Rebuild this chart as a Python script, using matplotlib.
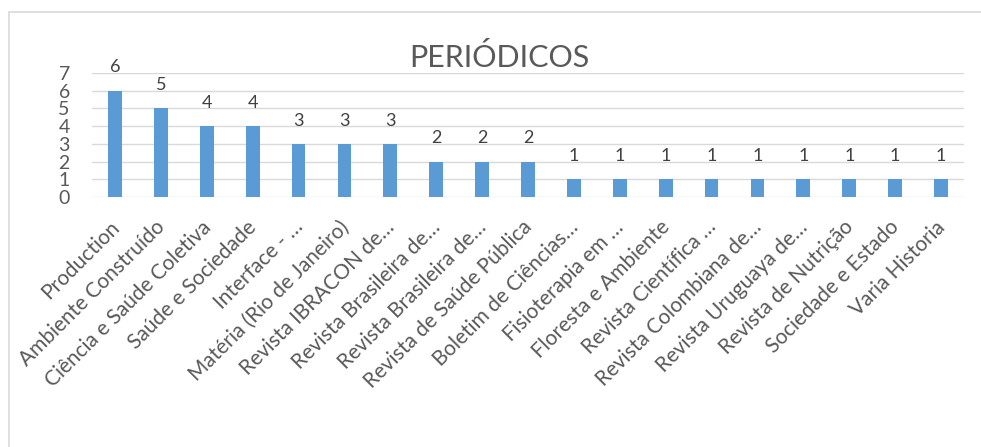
import matplotlib
matplotlib.use("Agg")
import matplotlib.pyplot as plt
import matplotlib.transforms as mtransforms
from matplotlib.patches import Rectangle

categories = [
    "Production", "Ambiente Construído", "Ciência e Saúde Coletiva", "Saúde e Sociedade",
    "Interface - …", "Matéria (Rio de Janeiro)", "Revista IBRACON de…", "Revista Brasileira de…",
    "Revista Brasileira de…", "Revista de Saúde Pública", "Boletim de Ciências…",
    "Fisioterapia em …", "Floresta e Ambiente", "Revista Científica …",
    "Revista Colombiana de…", "Revista Uruguaya de…", "Revista de Nutrição",
    "Sociedade e Estado", "Varia Historia",
]
values = [6, 5, 4, 4, 3, 3, 3, 2, 2, 2, 1, 1, 1, 1, 1, 1, 1, 1, 1]
y_ticks = [0, 1, 2, 3, 4, 5, 6, 7]
title = "PERIÓDICOS"

W, H = 981, 447
fig = plt.figure(figsize=(W / 100, H / 100), dpi=100)
fig.patch.set_facecolor("white")

# outer chart frame (clipped at right and bottom)
fig.patches.append(Rectangle((9 / W, -0.2), 2, 1 - 12 / H + 0.2, transform=fig.transFigure,
                             fill=False, edgecolor="#D9D9D9", linewidth=1.2))

ax = fig.add_axes([92 / W, 1 - 197 / H, (964 - 92) / W, (197 - 73) / H])
x = list(range(len(categories)))
bars = ax.bar(x, values, width=0.3, color="#5B9BD5", zorder=3)
ax.set_xlim(-0.5, len(categories) - 0.5)
ax.set_ylim(0, 7)
ax.set_yticks(y_ticks)
ax.set_yticklabels([str(t) for t in y_ticks], fontsize=14, color="#595959", family="Lato")
ax.tick_params(axis="y", length=0, pad=16)
ax.set_xticks([])
for s in ax.spines.values():
    s.set_visible(False)
for t in y_ticks:
    ax.axhline(t, color="#D9D9D9", linewidth=1.0, zorder=1)

for xi, v in zip(x, values):
    ax.annotate(str(v), (xi, v), xytext=(0, 11), textcoords="offset points",
                ha="center", va="bottom", fontsize=13, color="#404040", family="Lato")

trans = mtransforms.blended_transform_factory(ax.transData, ax.transAxes)
off = mtransforms.ScaledTranslation(1 / 100, -27 / 100, fig.dpi_scale_trans)
for xi, lab in zip(x, categories):
    ax.text(xi, 0, lab, transform=trans + off, rotation=45, rotation_mode="anchor",
            ha="right", va="center", fontsize=15, color="#595959", family="Lato")

fig.text(499 / W, 1 - 67 / H, title, ha="center", va="baseline", fontsize=22,
         color="#595959", family="Lato")

fig.savefig("out.png", dpi=100)
